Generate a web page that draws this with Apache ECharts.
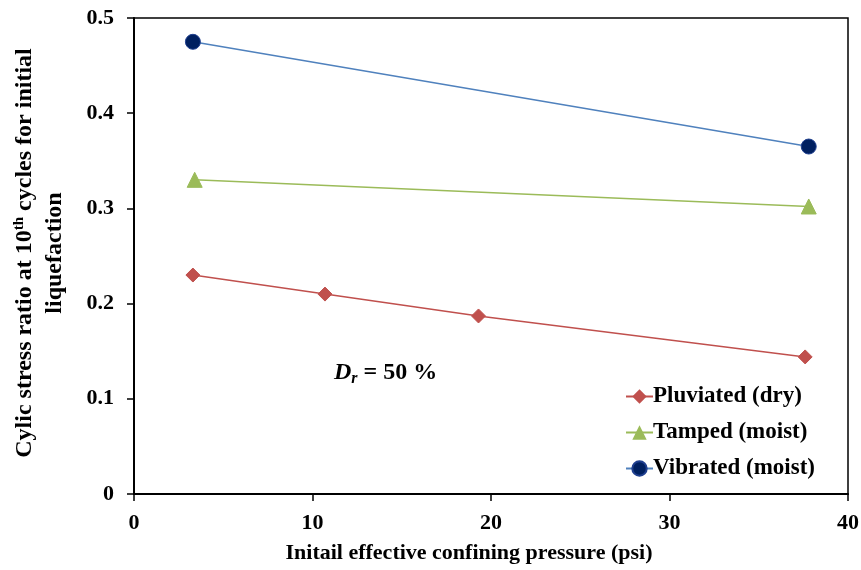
<!DOCTYPE html>
<html>
<head>
<meta charset="utf-8">
<script src="https://cdn.jsdelivr.net/npm/echarts@6/dist/echarts.min.js"></script>
<style>
  html, body { margin: 0; padding: 0; background: #fff; }
  #chart { width: 861px; height: 570px; }
</style>
</head>
<body>
<div id="chart"></div>
<script>
// Confining pressure (psi) and cyclic stress ratio for each specimen preparation method
const pluviatedX = [3.3, 10.7, 19.3, 37.6];
const pluviatedY = [0.230, 0.210, 0.187, 0.144];
const tampedX = [3.4, 37.8];
const tampedY = [0.330, 0.302];
const vibratedX = [3.3, 37.8];
const vibratedY = [0.475, 0.365];

const xTicks = [0, 10, 20, 30, 40];
const yTicks = [0, 0.1, 0.2, 0.3, 0.4, 0.5];

const seriesNames = ['Pluviated (dry)', 'Tamped (moist)', 'Vibrated (moist)'];

const pairs = (xs, ys) => xs.map((x, i) => [x, ys[i]]);
const FONT = '"Liberation Serif", "Times New Roman", serif';

const chart = echarts.init(document.getElementById('chart'), null, { renderer: 'canvas' });

chart.setOption({
  backgroundColor: '#ffffff',
  animation: false,
  grid: {
    left: 134, right: 13, top: 18, bottom: 76,
    containLabel: false, outerBoundsMode: 'none',
    show: true, borderColor: '#000', borderWidth: 1.5, backgroundColor: 'transparent'
  },
  xAxis: {
    type: 'value',
    min: xTicks[0], max: xTicks[xTicks.length - 1], interval: 10,
    axisLine: { onZero: false, lineStyle: { color: '#000', width: 2 } },
    axisTick: { show: true, inside: false, length: 7, lineStyle: { color: '#000', width: 1.5 } },
    axisLabel: { fontFamily: FONT, fontWeight: 'bold', fontSize: 22, color: '#000', margin: 18 },
    splitLine: { show: false }
  },
  yAxis: {
    type: 'value',
    min: yTicks[0], max: yTicks[yTicks.length - 1], interval: 0.1,
    axisLine: { onZero: false, lineStyle: { color: '#000', width: 2 } },
    axisTick: { show: true, inside: false, length: 7, lineStyle: { color: '#000', width: 1.5 } },
    axisLabel: {
      fontFamily: FONT, fontWeight: 'bold', fontSize: 22, color: '#000', margin: 20,
      formatter: v => (v === 0 ? '0' : v.toFixed(1))
    },
    splitLine: { show: false }
  },
  legend: {
    data: seriesNames,
    orient: 'vertical',
    left: 620, top: 380,
    itemWidth: 27, itemHeight: 18, itemGap: 13,
    textStyle: { fontFamily: FONT, fontWeight: 'bold', fontSize: 23, color: '#000', padding: [0, 0, 0, -5] }
  },
  graphic: [
    {
      // x-axis title
      type: 'text',
      x: 469, y: 553,
      style: {
        text: 'Initail effective confining pressure (psi)',
        align: 'center', verticalAlign: 'middle',
        font: 'bold 22px ' + FONT, fill: '#000'
      }
    },
    {
      // two-line y-axis title, rotated to read bottom-to-top
      type: 'text',
      x: 40, y: 253, rotation: Math.PI / 2,
      style: {
        text: '{a|Cylic stress ratio at 10}{s|th}{a| cycles for initial}\n{a|liquefaction}',
        align: 'center', verticalAlign: 'middle',
        rich: {
          a: { fontFamily: FONT, fontWeight: 'bold', fontSize: 24, fill: '#000', lineHeight: 30 },
          s: { fontFamily: FONT, fontWeight: 'bold', fontSize: 15, fill: '#000', lineHeight: 30, padding: [0, 0, 12, 0] }
        }
      }
    },
    {
      type: 'text',
      left: 334, top: 361,
      style: {
        text: '{d|D}{r|r}{e| = 50 %}',
        rich: {
          d: { fontFamily: FONT, fontWeight: 'bold', fontStyle: 'italic', fontSize: 24, fill: '#000' },
          r: { fontFamily: FONT, fontWeight: 'bold', fontStyle: 'italic', fontSize: 16, fill: '#000', padding: [11, 0, 0, 0] },
          e: { fontFamily: FONT, fontWeight: 'bold', fontSize: 24, fill: '#000' }
        }
      }
    }
  ],
  series: [
    {
      name: seriesNames[0], type: 'line',
      data: pairs(pluviatedX, pluviatedY),
      symbol: 'diamond', symbolSize: 14,
      lineStyle: { color: '#C0504D', width: 1.5 },
      itemStyle: { color: '#C0504D', borderColor: '#C0504D' }
    },
    {
      name: seriesNames[1], type: 'line',
      data: pairs(tampedX, tampedY),
      symbol: 'triangle', symbolSize: 15,
      lineStyle: { color: '#9BBB59', width: 1.5 },
      itemStyle: { color: '#9BBB59', borderColor: '#9BBB59' }
    },
    {
      name: seriesNames[2], type: 'line',
      data: pairs(vibratedX, vibratedY),
      symbol: 'circle', symbolSize: 15,
      lineStyle: { color: '#4F81BD', width: 1.5 },
      itemStyle: { color: '#002060', borderColor: '#1F3F8F', borderWidth: 1 }
    }
  ]
});
</script>
</body>
</html>
